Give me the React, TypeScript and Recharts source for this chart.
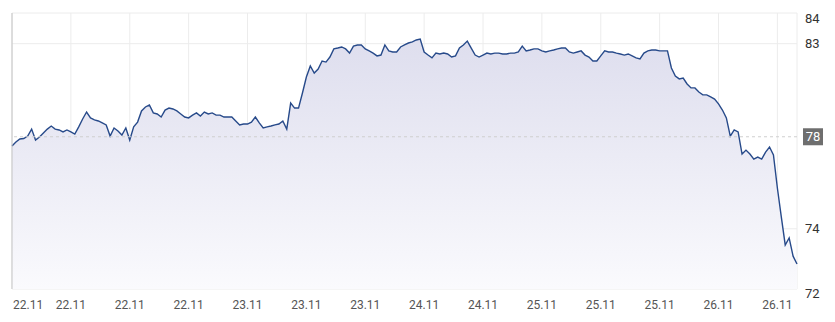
import React from "react";
import {
  AreaChart,
  Area,
  XAxis,
  YAxis,
  CartesianGrid,
  ReferenceLine,
} from "recharts";

// tick labels along the bottom, one per gridline
const xLabels = [
  "22.11", "22.11", "22.11", "22.11",
  "23.11", "23.11", "23.11",
  "24.11", "24.11",
  "25.11", "25.11", "25.11",
  "26.11", "26.11",
];
const xTicks = [0, 15, 30, 45, 60, 75, 90, 105, 120, 135, 150, 165, 180, 195];

const yTicks = [84.1, 82.7, 74.25, 71.5];
const refPrice = 78.45;

// price, evenly spaced points
const prices = [
  78.03, 78.21, 78.35, 78.37, 78.48, 78.8, 78.3, 78.44, 78.62, 78.8,
  78.94, 78.8, 78.76, 78.67, 78.76, 78.67, 78.57, 78.9, 79.26, 79.58,
  79.31, 79.22, 79.17, 79.08, 78.99, 78.48, 78.85, 78.71, 78.53, 78.85,
  78.3, 78.9, 79.12, 79.63, 79.81, 79.9, 79.54, 79.49, 79.35, 79.67,
  79.76, 79.72, 79.63, 79.49, 79.35, 79.31, 79.44, 79.54, 79.4, 79.58,
  79.49, 79.54, 79.44, 79.44, 79.35, 79.35, 79.35, 79.17, 78.99, 79.03,
  79.03, 79.12, 79.35, 79.08, 78.85, 78.9, 78.94, 78.99, 79.03, 79.17,
  78.8, 79.99, 79.76, 79.76, 80.45, 81.18, 81.68, 81.36, 81.54, 81.91,
  81.86, 82.09, 82.46, 82.5, 82.55, 82.46, 82.27, 82.59, 82.64, 82.64,
  82.46, 82.37, 82.27, 82.14, 82.18, 82.64, 82.37, 82.32, 82.32, 82.55,
  82.64, 82.73, 82.78, 82.87, 82.91, 82.32, 82.18, 82.05, 82.27, 82.23,
  82.27, 82.23, 82.09, 82.14, 82.5, 82.64, 82.82, 82.5, 82.18, 82.09,
  82.18, 82.27, 82.23, 82.27, 82.27, 82.23, 82.23, 82.27, 82.27, 82.32,
  82.59, 82.37, 82.41, 82.46, 82.46, 82.37, 82.32, 82.37, 82.41, 82.46,
  82.5, 82.5, 82.32, 82.27, 82.32, 82.37, 82.18, 82.09, 81.91, 81.91,
  82.14, 82.37, 82.32, 82.32, 82.27, 82.23, 82.18, 82.23, 82.14, 82.05,
  82.0, 82.27, 82.37, 82.41, 82.41, 82.37, 82.37, 82.37, 81.59, 81.22,
  81.09, 81.13, 80.86, 80.68, 80.68, 80.49, 80.36, 80.36, 80.27, 80.17,
  79.95, 79.67, 79.31, 78.48, 78.76, 78.67, 77.66, 77.84, 77.66, 77.43,
  77.52, 77.43, 77.75, 77.98, 77.62, 76.11, 74.79, 73.51, 73.83, 73.0,
  72.64,
];

const data = prices.map((p, i) => ({ i, p }));

const font = "Roboto, 'Noto Sans', sans-serif";

function XTick(props: any) {
  const { x, y, payload } = props;
  const idx = xTicks.indexOf(payload.value);
  const first = idx === 0;
  return (
    <text
      x={first ? x + 1 : x}
      y={y}
      dy={12}
      textAnchor={first ? "start" : "middle"}
      fill="#555"
      fontSize={12}
      fontFamily={font}
    >
      {xLabels[idx]}
    </text>
  );
}

function YTick(props: any) {
  const { x, y, payload } = props;
  let shift = 0;
  if (payload.value === yTicks[0]) shift = 5;
  if (payload.value === yTicks[yTicks.length - 1]) shift = 4;
  return (
    <text
      x={x}
      y={y + shift}
      dy={4.5}
      textAnchor="start"
      fill="#333"
      fontSize={13}
      fontFamily={font}
    >
      {Math.round(payload.value)}
    </text>
  );
}

function RefTag(props: any) {
  const vb = props.viewBox;
  const left = vb.x + vb.width + 6;
  return (
    <g>
      <rect x={left} y={vb.y - 8.5} width={20} height={17} fill="#6e6e6e" />
      <text
        x={left + 10}
        y={vb.y + 4.5}
        textAnchor="middle"
        fill="#fff"
        fontSize={13}
        fontFamily={font}
      >
        {refPrice.toFixed(0)}
      </text>
    </g>
  );
}

export default function App() {
  return (
    <div style={{ position: "absolute", left: 0, top: 0, background: "#fff" }}>
      <AreaChart
        width={835}
        height={322}
        data={data}
        margin={{ top: 13, right: 0, left: 12, bottom: 0 }}
      >
        <defs>
          <linearGradient id="fillPrice" x1="0" y1="0" x2="0" y2="1">
            <stop offset="0%" stopColor="#dedeee" />
            <stop offset="100%" stopColor="#fafafd" />
          </linearGradient>
        </defs>
        <CartesianGrid stroke="#ececec" />
        <XAxis
          dataKey="i"
          type="number"
          domain={[0, 200]}
          ticks={xTicks}
          interval={0}
          axisLine={false}
          tickLine={false}
          height={33}
          tick={<XTick />}
        />
        <YAxis
          orientation="right"
          type="number"
          domain={[71.5, 84.1]}
          ticks={yTicks}
          interval={0}
          axisLine={false}
          tickLine={false}
          width={38}
          tick={<YTick />}
        />
        <Area
          type="linear"
          dataKey="p"
          stroke="#274a8a"
          strokeWidth={1.4}
          fill="url(#fillPrice)"
          fillOpacity={1}
          isAnimationActive={false}
          dot={false}
          activeDot={false}
        />
        <ReferenceLine x={0} stroke="#c4c4c4" strokeWidth={1} />
        <ReferenceLine
          y={refPrice}
          stroke="#cfcfcf"
          strokeDasharray="3 3"
          label={<RefTag />}
        />
      </AreaChart>
    </div>
  );
}
